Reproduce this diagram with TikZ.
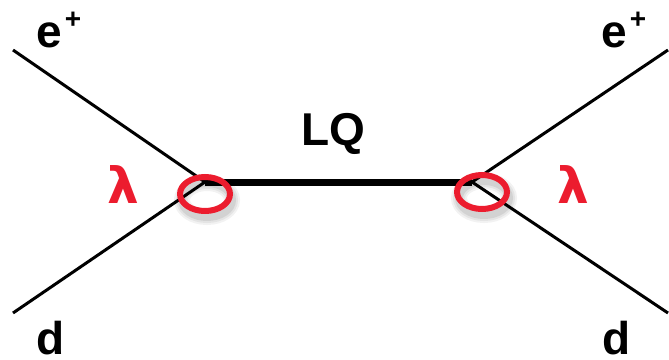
\documentclass[tikz,border=0pt]{standalone}
\usepackage{fontspec}
\setmainfont{Liberation Sans}
\newfontfamily\lamfont{DejaVu Sans}
\definecolor{lqred}{RGB}{236,28,46}
\newcommand{\posplus}{\kern3pt\raisebox{19pt}{\fontsize{28}{28}\selectfont\bfseries +}}
\begin{document}
\begin{tikzpicture}[x=1pt,y=-1pt,
  lbl/.style={inner sep=0pt,anchor=base,text depth=0pt,font=\fontsize{46}{46}\selectfont\bfseries},
  lam/.style={lbl,text=lqred,font=\fontsize{50}{50}\selectfont\lamfont\bfseries},
  fermion/.style={line width=3pt},
  lqline/.style={line width=7pt},
  vring/.style={draw=lqred,line width=6pt}]
\useasboundingbox (0,0) rectangle (669,359);
\coordinate (ul) at (13,50);
\coordinate (ll) at (13,313);
\coordinate (ur) at (668,50);
\coordinate (lr) at (668,313);
\coordinate (vl) at (205,182);
\coordinate (vr) at (472,182);
\draw[fermion] (ul) -- (vl) -- (ll);
\draw[fermion] (ur) -- (vr) -- (lr);
\draw[lqline] (vl) -- (vr);
% shadows
\foreach \c in {(205,194),(482,192)}{
  \foreach \w/\o in {16/0.05,12/0.06,8/0.08}{
    \draw[black,opacity=\o,line width=\w pt] \c ++(2,6) ellipse [x radius=25,y radius=17];
  }
}
\draw[vring] (205,194) ellipse [x radius=25,y radius=17];
\draw[vring] (482,192) ellipse [x radius=25,y radius=17];
\node[lbl,anchor=base west] (ep1) at (36,47) {e\posplus};
\node[lbl,anchor=base west] (ep2) at (601,47) {e\posplus};
\node[lbl] (d1) at (51,354) {d};
\node[lbl] (d2) at (617,354) {d};
\node[lbl] (lq) at (333,145) {LQ};
\node[lam] (l1) at (123,203) {λ};
\node[lam] (l2) at (573,203) {λ};
\end{tikzpicture}
\end{document}
